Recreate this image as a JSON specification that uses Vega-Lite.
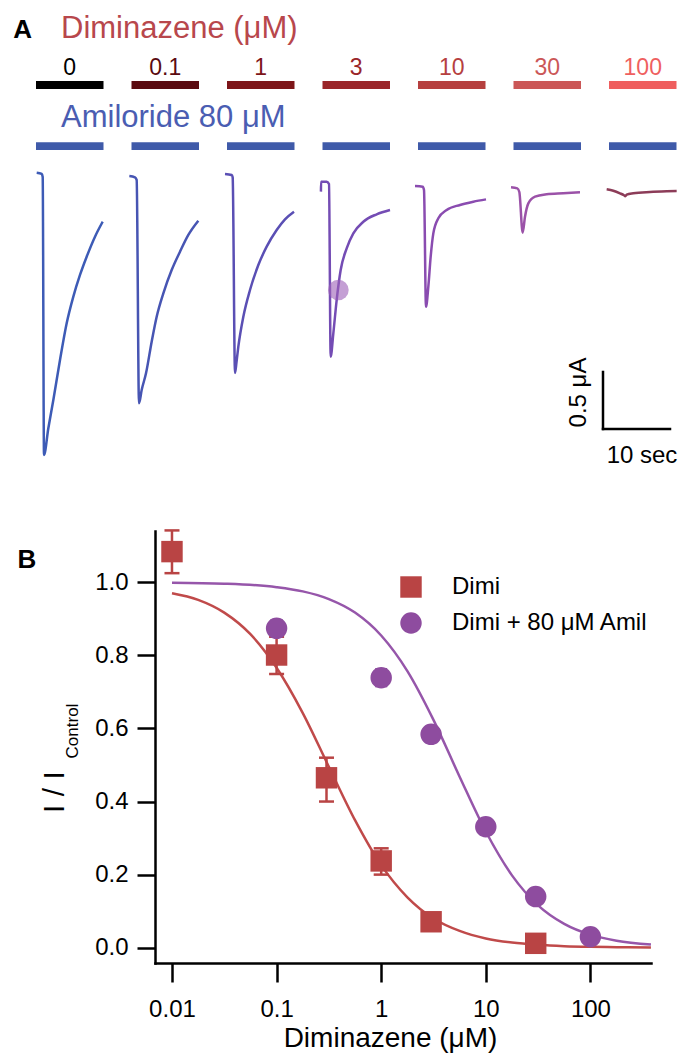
{
"$schema": "https://vega.github.io/schema/vega-lite/v6.json",
"width": 496,
"height": 432,
"autosize": {"type": "none"},
"padding": {"left": 155, "top": 531, "right": 32, "bottom": 98},
"background": "white",
"config": {"font": "Liberation Sans", "view": {"stroke": null}, "text": {"font": "Liberation Sans"}},
"datasets": {
"pts": [
{"series": "Dimi", "conc": 0.01, "ratio": 1.084, "lo": 1.025, "hi": 1.142},
{"series": "Dimi", "conc": 0.1, "ratio": 0.801, "lo": 0.749, "hi": 0.851},
{"series": "Dimi", "conc": 0.3, "ratio": 0.465, "lo": 0.40, "hi": 0.52},
{"series": "Dimi", "conc": 1, "ratio": 0.2375, "lo": 0.20, "hi": 0.272},
{"series": "Dimi", "conc": 3, "ratio": 0.071, "lo": 0.058, "hi": 0.084},
{"series": "Dimi", "conc": 30, "ratio": 0.012, "lo": 0.006, "hi": 0.018},
{"series": "Dimi + 80 μM Amil", "conc": 0.1, "ratio": 0.874, "lo": 0.852, "hi": 0.896},
{"series": "Dimi + 80 μM Amil", "conc": 1, "ratio": 0.739, "lo": 0.716, "hi": 0.762},
{"series": "Dimi + 80 μM Amil", "conc": 3, "ratio": 0.584, "lo": 0.574, "hi": 0.594},
{"series": "Dimi + 80 μM Amil", "conc": 10, "ratio": 0.331, "lo": 0.321, "hi": 0.341},
{"series": "Dimi + 80 μM Amil", "conc": 30, "ratio": 0.14, "lo": 0.132, "hi": 0.148},
{"series": "Dimi + 80 μM Amil", "conc": 100, "ratio": 0.03, "lo": 0.024, "hi": 0.036}
],
"fit": [
{"series": "Dimi", "conc": 0.01, "ratio": 0.970},
{"series": "Dimi", "conc": 0.0178, "ratio": 0.952},
{"series": "Dimi", "conc": 0.0316, "ratio": 0.917},
{"series": "Dimi", "conc": 0.0562, "ratio": 0.858},
{"series": "Dimi", "conc": 0.1, "ratio": 0.766},
{"series": "Dimi", "conc": 0.178, "ratio": 0.642},
{"series": "Dimi", "conc": 0.316, "ratio": 0.495},
{"series": "Dimi", "conc": 0.562, "ratio": 0.349},
{"series": "Dimi", "conc": 1, "ratio": 0.226},
{"series": "Dimi", "conc": 1.78, "ratio": 0.138},
{"series": "Dimi", "conc": 3.16, "ratio": 0.080},
{"series": "Dimi", "conc": 5.62, "ratio": 0.046},
{"series": "Dimi", "conc": 10, "ratio": 0.0254},
{"series": "Dimi", "conc": 17.8, "ratio": 0.014},
{"series": "Dimi", "conc": 31.6, "ratio": 0.0078},
{"series": "Dimi", "conc": 56.2, "ratio": 0.0042},
{"series": "Dimi", "conc": 100, "ratio": 0.0023},
{"series": "Dimi", "conc": 178, "ratio": 0.0013},
{"series": "Dimi", "conc": 379, "ratio": 0.0006},
{"series": "Amil", "conc": 0.01, "ratio": 0.9989},
{"series": "Amil", "conc": 0.0316, "ratio": 0.9962},
{"series": "Amil", "conc": 0.1, "ratio": 0.9867},
{"series": "Amil", "conc": 0.178, "ratio": 0.9751},
{"series": "Amil", "conc": 0.316, "ratio": 0.9542},
{"series": "Amil", "conc": 0.562, "ratio": 0.9172},
{"series": "Amil", "conc": 1, "ratio": 0.8545},
{"series": "Amil", "conc": 1.78, "ratio": 0.757},
{"series": "Amil", "conc": 3.16, "ratio": 0.6236},
{"series": "Amil", "conc": 5.62, "ratio": 0.468},
{"series": "Amil", "conc": 10, "ratio": 0.318},
{"series": "Amil", "conc": 17.8, "ratio": 0.198},
{"series": "Amil", "conc": 31.6, "ratio": 0.116},
{"series": "Amil", "conc": 56.2, "ratio": 0.0653},
{"series": "Amil", "conc": 100, "ratio": 0.0357},
{"series": "Amil", "conc": 178, "ratio": 0.0193},
{"series": "Amil", "conc": 379, "ratio": 0.0085}
],
"traces": [
{"trace": "0", "t": 5.478, "I": 0},
{"trace": "0", "t": 6.224, "I": -0.011},
{"trace": "0", "t": 6.373, "I": -0.038},
{"trace": "0", "t": 6.567, "I": -2.476},
{"trace": "0", "t": 7.214, "I": -2.242},
{"trace": "0", "t": 7.96, "I": -1.994},
{"trace": "0", "t": 8.955, "I": -1.643},
{"trace": "0", "t": 9.951, "I": -1.321},
{"trace": "0", "t": 10.945, "I": -1.087},
{"trace": "0", "t": 11.94, "I": -0.897},
{"trace": "0", "t": 12.936, "I": -0.737},
{"trace": "0", "t": 14.179, "I": -0.561},
{"trace": "0", "t": 15.324, "I": -0.43},
{"trace": "0.1", "t": 19.303, "I": -0.029},
{"trace": "0.1", "t": 20.149, "I": -0.041},
{"trace": "0.1", "t": 20.398, "I": -0.064},
{"trace": "0.1", "t": 20.746, "I": -2.023},
{"trace": "0.1", "t": 21.145, "I": -1.906},
{"trace": "0.1", "t": 21.791, "I": -1.76},
{"trace": "0.1", "t": 22.637, "I": -1.482},
{"trace": "0.1", "t": 23.384, "I": -1.263},
{"trace": "0.1", "t": 24.378, "I": -1.058},
{"trace": "0.1", "t": 25.622, "I": -0.854},
{"trace": "0.1", "t": 26.866, "I": -0.693},
{"trace": "0.1", "t": 28.109, "I": -0.546},
{"trace": "0.1", "t": 29.601, "I": -0.421},
{"trace": "1", "t": 33.582, "I": -0.011},
{"trace": "1", "t": 34.578, "I": -0.02},
{"trace": "1", "t": 34.727, "I": -0.041},
{"trace": "1", "t": 35.075, "I": -1.757},
{"trace": "1", "t": 35.299, "I": -1.661},
{"trace": "1", "t": 35.572, "I": -1.526},
{"trace": "1", "t": 36.318, "I": -1.263},
{"trace": "1", "t": 37.313, "I": -1.029},
{"trace": "1", "t": 38.557, "I": -0.81},
{"trace": "1", "t": 39.801, "I": -0.649},
{"trace": "1", "t": 41.294, "I": -0.503},
{"trace": "1", "t": 42.537, "I": -0.409},
{"trace": "1", "t": 43.881, "I": -0.342},
{"trace": "3", "t": 47.9, "I": -0.166},
{"trace": "3", "t": 47.915, "I": -0.079},
{"trace": "3", "t": 48.757, "I": -0.079},
{"trace": "3", "t": 49.104, "I": -0.099},
{"trace": "3", "t": 49.354, "I": -1.614},
{"trace": "3", "t": 49.751, "I": -1.409},
{"trace": "3", "t": 50.249, "I": -1.117},
{"trace": "3", "t": 50.846, "I": -0.854},
{"trace": "3", "t": 51.742, "I": -0.663},
{"trace": "3", "t": 52.736, "I": -0.532},
{"trace": "3", "t": 54.228, "I": -0.43},
{"trace": "3", "t": 56.219, "I": -0.365},
{"trace": "3", "t": 58.209, "I": -0.327},
{"trace": "10", "t": 61.94, "I": -0.117},
{"trace": "10", "t": 63.085, "I": -0.123},
{"trace": "10", "t": 63.284, "I": -0.152},
{"trace": "10", "t": 63.582, "I": -1.175},
{"trace": "10", "t": 63.93, "I": -1.0},
{"trace": "10", "t": 64.279, "I": -0.737},
{"trace": "10", "t": 64.676, "I": -0.532},
{"trace": "10", "t": 65.422, "I": -0.4},
{"trace": "10", "t": 66.667, "I": -0.327},
{"trace": "10", "t": 68.657, "I": -0.283},
{"trace": "10", "t": 70.646, "I": -0.254},
{"trace": "10", "t": 72.537, "I": -0.234},
{"trace": "30", "t": 76.269, "I": -0.128},
{"trace": "30", "t": 77.213, "I": -0.137},
{"trace": "30", "t": 77.512, "I": -0.169},
{"trace": "30", "t": 78.01, "I": -0.526},
{"trace": "30", "t": 78.358, "I": -0.386},
{"trace": "30", "t": 78.855, "I": -0.269},
{"trace": "30", "t": 79.851, "I": -0.21},
{"trace": "30", "t": 81.592, "I": -0.19},
{"trace": "30", "t": 84.079, "I": -0.181},
{"trace": "30", "t": 86.567, "I": -0.172},
{"trace": "100", "t": 90.548, "I": -0.146},
{"trace": "100", "t": 91.541, "I": -0.158},
{"trace": "100", "t": 92.537, "I": -0.181},
{"trace": "100", "t": 93.134, "I": -0.198},
{"trace": "100", "t": 93.333, "I": -0.206},
{"trace": "100", "t": 93.532, "I": -0.193},
{"trace": "100", "t": 94.527, "I": -0.181},
{"trace": "100", "t": 97.015, "I": -0.169},
{"trace": "100", "t": 99.503, "I": -0.163},
{"trace": "100", "t": 100.996, "I": -0.161}
],
"apps": [
{"conc": "0", "start": 5.373, "end": 15.448},
{"conc": "0.1", "start": 19.627, "end": 29.701},
{"conc": "1", "start": 33.881, "end": 43.955},
{"conc": "3", "start": 48.134, "end": 58.209},
{"conc": "10", "start": 62.388, "end": 72.463},
{"conc": "30", "start": 76.642, "end": 86.716},
{"conc": "100", "start": 90.896, "end": 100.97}
]
},
"layer": [
{
"layer": [
{
"data": {"name": "fit"},
"transform": [{"filter": {"field": "series", "equal": "Dimi"}}],
"mark": {"type": "line", "color": "#c04a4a", "strokeWidth": 2.5, "interpolate": "monotone"},
"encoding": {
"x": {"field": "conc", "type": "quantitative",
"scale": {"type": "log", "domain": [0.006881, 379.6], "nice": false},
"axis": {"orient": "bottom", "values": [0.01, 0.1, 1, 10, 100], "format": "~g", "grid": false,
"title": "Diminazene (μM)", "titleFontSize": 28, "titleFontWeight": "normal", "titleColor": "black", "titleFont": "Liberation Sans",
"titleX": 235, "titleY": 83, "titleBaseline": "alphabetic", "titleAlign": "center",
"labelFontSize": 24, "labelColor": "black", "labelFont": "Liberation Sans", "labelPadding": 15, "labelFlush": false, "labelOverlap": false,
"tickSize": 19, "tickWidth": 2.5, "tickColor": "black", "domainColor": "black", "domainWidth": 2.5, "domainCap": "square"}},
"y": {"field": "ratio", "type": "quantitative",
"scale": {"domain": [-0.04187, 1.1404], "nice": false, "zero": false},
"axis": {"orient": "left", "values": [0, 0.2, 0.4, 0.6, 0.8, 1.0], "format": ".1f", "grid": false, "title": null,
"labelFontSize": 24, "labelColor": "black", "labelFont": "Liberation Sans", "labelPadding": 9, "labelOverlap": false, "labelFlush": false,
"tickSize": 18, "tickWidth": 2.5, "tickColor": "black", "domainColor": "black", "domainWidth": 2.5, "domainCap": "square"}}
}
},
{
"data": {"name": "fit"},
"transform": [{"filter": {"field": "series", "equal": "Amil"}}],
"mark": {"type": "line", "color": "#9656aa", "strokeWidth": 2.5, "interpolate": "monotone"},
"encoding": {
"x": {"field": "conc", "type": "quantitative"},
"y": {"field": "ratio", "type": "quantitative"}
}
},
{
"data": {"name": "pts"},
"transform": [{"filter": {"field": "series", "equal": "Dimi"}}],
"mark": {"type": "rule", "color": "#b94444", "strokeWidth": 2.5},
"encoding": {
"x": {"field": "conc", "type": "quantitative"},
"y": {"field": "lo", "type": "quantitative"},
"y2": {"field": "hi"}
}
},
{
"data": {"name": "pts"},
"transform": [{"filter": {"field": "series", "equal": "Dimi"}}],
"mark": {"type": "tick", "orient": "horizontal", "color": "#b94444", "size": 15, "thickness": 2.5, "opacity": 1},
"encoding": {
"x": {"field": "conc", "type": "quantitative"},
"y": {"field": "lo", "type": "quantitative"}
}
},
{
"data": {"name": "pts"},
"transform": [{"filter": {"field": "series", "equal": "Dimi"}}],
"mark": {"type": "tick", "orient": "horizontal", "color": "#b94444", "size": 15, "thickness": 2.5, "opacity": 1},
"encoding": {
"x": {"field": "conc", "type": "quantitative"},
"y": {"field": "hi", "type": "quantitative"}
}
},
{
"data": {"name": "pts"},
"transform": [{"filter": {"field": "series", "equal": "Dimi + 80 μM Amil"}}],
"mark": {"type": "rule", "color": "#8e4c9f", "strokeWidth": 2.5},
"encoding": {
"x": {"field": "conc", "type": "quantitative"},
"y": {"field": "lo", "type": "quantitative"},
"y2": {"field": "hi"}
}
},
{
"data": {"name": "pts"},
"transform": [{"filter": {"field": "series", "equal": "Dimi + 80 μM Amil"}}],
"mark": {"type": "tick", "orient": "horizontal", "color": "#8e4c9f", "size": 12, "thickness": 2.5, "opacity": 1},
"encoding": {
"x": {"field": "conc", "type": "quantitative"},
"y": {"field": "lo", "type": "quantitative"}
}
},
{
"data": {"name": "pts"},
"transform": [{"filter": {"field": "series", "equal": "Dimi + 80 μM Amil"}}],
"mark": {"type": "tick", "orient": "horizontal", "color": "#8e4c9f", "size": 12, "thickness": 2.5, "opacity": 1},
"encoding": {
"x": {"field": "conc", "type": "quantitative"},
"y": {"field": "hi", "type": "quantitative"}
}
},
{
"data": {"name": "pts"},
"mark": {"type": "point", "filled": true, "size": 460, "opacity": 1, "strokeWidth": 0},
"encoding": {
"x": {"field": "conc", "type": "quantitative"},
"y": {"field": "ratio", "type": "quantitative"},
"color": {"field": "series", "type": "nominal",
"scale": {"domain": ["Dimi", "Dimi + 80 μM Amil"], "range": ["#b94444", "#8e4c9f"]},
"legend": {"orient": "none", "legendX": 244, "legendY": 44, "title": null, "padding": 0, "symbolSize": 460, "symbolStrokeWidth": 0, "symbolOpacity": 1,
"labelFontSize": 24, "labelFont": "Liberation Sans", "labelColor": "black", "labelLimit": 0, "rowPadding": 12, "labelOffset": 29}},
"shape": {"field": "series", "type": "nominal",
"scale": {"domain": ["Dimi", "Dimi + 80 μM Amil"], "range": ["square", "circle"]},
"legend": {"orient": "none", "legendX": 244, "legendY": 44, "title": null, "padding": 0, "symbolSize": 460, "symbolStrokeWidth": 0, "symbolOpacity": 1,
"labelFontSize": 24, "labelFont": "Liberation Sans", "labelColor": "black", "labelLimit": 0, "rowPadding": 12, "labelOffset": 29}}
}
},
{
"data": {"values": [{}]},
"mark": {"type": "text", "text": "B", "fontSize": 26, "fontWeight": "bold", "align": "left", "baseline": "alphabetic", "color": "black"},
"encoding": {
"x": {"datum": 0.0003333, "type": "quantitative"},
"y": {"datum": 1.039, "type": "quantitative"}
}
},
{
"data": {"values": [{}]},
"mark": {"type": "text", "text": "I / I", "fontSize": 30, "angle": 270, "align": "center", "baseline": "alphabetic", "color": "black"},
"encoding": {
"x": {"datum": 0.00092, "type": "quantitative"},
"y": {"datum": 0.426, "type": "quantitative"}
}
},
{
"data": {"values": [{}]},
"mark": {"type": "text", "text": "Control", "fontSize": 17, "angle": 270, "align": "center", "baseline": "alphabetic", "color": "black"},
"encoding": {
"x": {"datum": 0.001263, "type": "quantitative"},
"y": {"datum": 0.593, "type": "quantitative"}
}
}
]
},
{
"layer": [
{
"data": {"name": "traces"},
"mark": {"type": "line", "strokeWidth": 2.5, "interpolate": "monotone", "strokeJoin": "round"},
"encoding": {
"x": {"field": "t", "type": "quantitative", "scale": {"domain": [23.13433, 97.16418], "nice": false, "zero": false}, "axis": null},
"y": {"field": "I", "type": "quantitative", "scale": {"domain": [-6.93246, -3.14298], "nice": false, "zero": false}, "axis": null},
"stroke": {"field": "trace", "type": "nominal",
"scale": {"domain": ["0", "0.1", "1", "3", "10", "30", "100"], "range": ["#3d5bb6", "#4755b3", "#5a4fb4", "#744cb4", "#8a4cb0", "#9b52a8", "#8c3c58"]},
"legend": null}
}
},
{
"data": {"name": "apps"},
"mark": {"type": "rule", "strokeWidth": 8},
"encoding": {
"x": {"field": "start", "type": "quantitative", "axis": null},
"x2": {"field": "end"},
"y": {"datum": 0.7693, "type": "quantitative", "axis": null},
"color": {"field": "conc", "type": "nominal",
"scale": {"domain": ["0", "0.1", "1", "3", "10", "30", "100"], "range": ["#000000", "#5a0a10", "#7d1519", "#9a2529", "#b6403f", "#cb5757", "#ef5f5f"]},
"legend": null}
}
},
{
"data": {"name": "apps"},
"mark": {"type": "text", "fontSize": 23, "align": "center", "baseline": "alphabetic", "dx": 33.75},
"encoding": {
"x": {"field": "start", "type": "quantitative", "axis": null},
"y": {"datum": 0.857, "type": "quantitative", "axis": null},
"text": {"field": "conc"},
"color": {"field": "conc", "type": "nominal", "legend": null}
}
},
{
"data": {"name": "apps"},
"mark": {"type": "rule", "strokeWidth": 7.7, "color": "#3f5aa9"},
"encoding": {
"x": {"field": "start", "type": "quantitative", "axis": null},
"x2": {"field": "end"},
"y": {"datum": 0.2325, "type": "quantitative", "axis": null}
}
},
{
"data": {"values": [{}]},
"mark": {"type": "text", "text": "A", "fontSize": 26, "fontWeight": "bold", "align": "left", "baseline": "alphabetic", "color": "black"},
"encoding": {
"x": {"datum": 1.985, "type": "quantitative", "axis": null},
"y": {"datum": 1.178, "type": "quantitative", "axis": null}
}
},
{
"data": {"values": [{}]},
"mark": {"type": "text", "text": "Diminazene (μM)", "fontSize": 31, "align": "left", "baseline": "alphabetic", "color": "#b8474c"},
"encoding": {
"x": {"datum": 9.104, "type": "quantitative", "axis": null},
"y": {"datum": 1.178, "type": "quantitative", "axis": null}
}
},
{
"data": {"values": [{}]},
"mark": {"type": "text", "text": "Amiloride 80 μM", "fontSize": 31, "align": "left", "baseline": "alphabetic", "color": "#4a5db2"},
"encoding": {
"x": {"datum": 9.104, "type": "quantitative", "axis": null},
"y": {"datum": 0.4035, "type": "quantitative", "axis": null}
}
},
{
"data": {"values": [{}]},
"mark": {"type": "point", "filled": true, "size": 430, "color": "#9c5fb8", "opacity": 0.6, "strokeWidth": 0},
"encoding": {
"x": {"datum": 50.497, "type": "quantitative", "axis": null},
"y": {"datum": -1.029, "type": "quantitative", "axis": null}
}
},
{
"data": {"values": [{}]},
"mark": {"type": "rule", "color": "black", "strokeWidth": 2.5, "strokeCap": "square"},
"encoding": {
"x": {"datum": 90, "type": "quantitative", "axis": null},
"y": {"datum": -2.248, "type": "quantitative", "axis": null},
"y2": {"datum": -1.748}
}
},
{
"data": {"values": [{}]},
"mark": {"type": "rule", "color": "black", "strokeWidth": 2.5, "strokeCap": "square"},
"encoding": {
"x": {"datum": 90, "type": "quantitative", "axis": null},
"x2": {"datum": 100},
"y": {"datum": -2.248, "type": "quantitative", "axis": null}
}
},
{
"data": {"values": [{}]},
"mark": {"type": "text", "text": "10 sec", "fontSize": 24, "align": "center", "baseline": "alphabetic", "color": "black"},
"encoding": {
"x": {"datum": 95.82, "type": "quantitative", "axis": null},
"y": {"datum": -2.549, "type": "quantitative", "axis": null}
}
},
{
"data": {"values": [{}]},
"mark": {"type": "text", "text": "0.5 μA", "fontSize": 24, "angle": 270, "align": "center", "baseline": "alphabetic", "color": "black"},
"encoding": {
"x": {"datum": 87.46, "type": "quantitative", "axis": null},
"y": {"datum": -1.928, "type": "quantitative", "axis": null}
}
}
]
}
],
"resolve": {"scale": {"x": "independent", "y": "independent", "color": "independent", "shape": "independent", "stroke": "independent"}}
}
